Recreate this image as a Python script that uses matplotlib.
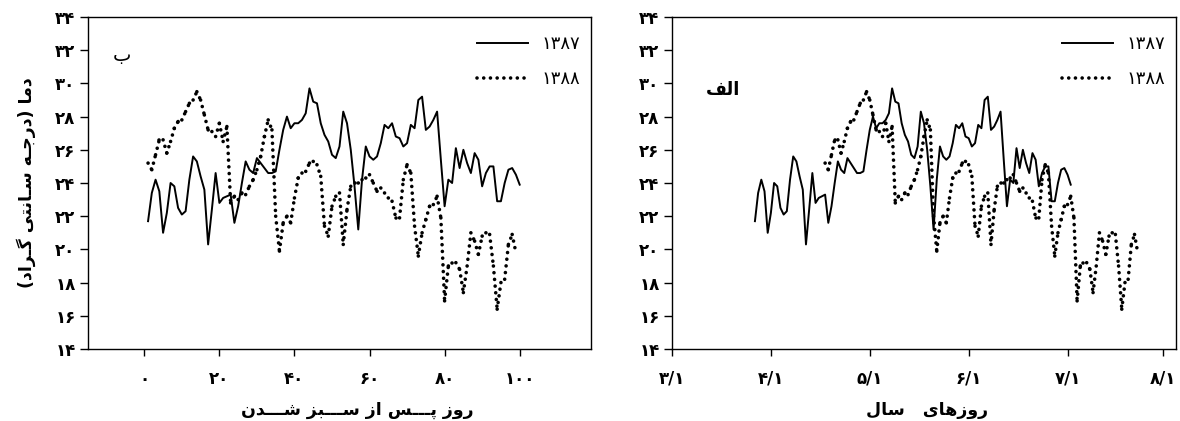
import matplotlib
matplotlib.use('Agg')
import matplotlib.pyplot as plt
from matplotlib.collections import LineCollection
from matplotlib.lines import Line2D

# ---------------- data ----------------
days_1387 = list(range(1, 101))
temp_1387 = [21.7, 23.4, 24.2, 23.5, 21.0, 22.2, 24.0, 23.8, 22.5, 22.1,
             22.3, 24.2, 25.6, 25.3, 24.4, 23.6, 20.3, 22.4, 24.6, 22.8,
             23.1, 23.2, 23.3, 21.6, 22.6, 24.0, 25.3, 24.8, 24.6, 25.5,
             25.2, 24.9, 24.6, 24.6, 24.7, 26.0, 27.2, 28.0, 27.3, 27.6,
             27.6, 27.8, 28.2, 29.7, 28.9, 28.8, 27.6, 26.9, 26.5, 25.7,
             25.5, 26.2, 28.3, 27.6, 26.0, 23.8, 21.2, 24.2, 26.2, 25.6,
             25.4, 25.6, 26.4, 27.5, 27.3, 27.6, 26.8, 26.7, 26.2, 26.4,
             27.5, 27.3, 29.0, 29.2, 27.2, 27.4, 27.8, 28.3, 25.4, 22.6,
             24.2, 24.0, 26.1, 24.9, 26.0, 25.2, 24.6, 25.8, 25.4, 23.8,
             24.6, 25.0, 25.0, 22.9, 22.9, 24.0, 24.8, 24.9, 24.5, 23.9]

days_1388 = list(range(1, 100))
temp_1388 = [25.2, 24.8, 25.7, 26.6, 26.6, 25.8, 26.5, 27.3, 27.7, 27.8,
             28.3, 28.8, 29.0, 29.5, 29.0, 28.1, 27.2, 27.1, 26.8, 27.6,
             26.5, 27.4, 22.8, 23.2, 23.0, 23.4, 23.3, 23.8, 24.2, 24.8,
             25.6, 26.8, 27.8, 27.2, 22.0, 19.9, 21.6, 22.0, 21.6, 23.1,
             24.3, 24.6, 24.7, 25.2, 25.3, 25.1, 24.4, 21.4, 20.8, 22.6,
             23.2, 23.4, 20.3, 22.4, 23.8, 24.0, 24.0, 24.2, 24.3, 24.5,
             24.0, 23.5, 23.7, 23.4, 23.1, 22.9, 21.9, 21.9, 24.2, 25.1,
             24.6, 21.4, 19.6, 21.0, 21.8, 22.6, 22.7, 23.2, 21.9, 16.9,
             19.0, 19.2, 19.2, 18.8, 17.4, 19.0, 21.0, 20.5, 19.7, 20.8,
             21.0, 20.9, 19.0, 16.4, 18.0, 18.2, 20.3, 20.9, 19.8]

# green-up dates (Persian month, day) used to place the series on the calendar axis
greenup_1387 = (3, 26)
greenup_1388 = (4, 17)

series_labels = ['1387', '1388']
day_ticks = [0, 20, 40, 60, 80, 100]
month_ticks = [3, 4, 5, 6, 7, 8]
y_ticks = [14, 16, 18, 20, 22, 24, 26, 28, 30, 32, 34]

ylabel_txt = 'دما (درجـه سـانتی گـراد)'
xlabel_left = 'روز پـــس از ســـبز شـــدن'
xlabel_right = 'روزهای   سال'
panel_left = 'ب'
panel_right = 'الف'

# ---------------- helpers ----------------
FA_DIGITS = str.maketrans('0123456789', '۰۱۲۳۴۵۶۷۸۹')


def fa(s):
    return str(s).translate(FA_DIGITS)


def doy(month, day):
    lengths = [31] * 6 + [30] * 5 + [29]
    return sum(lengths[:month - 1]) + day


# Arabic-script shaping (presentation forms) + visual (RTL) ordering
FORMS = {
    'ا': ('\uFE8D', '\uFE8E', None, None),
    'ب': ('\uFE8F', '\uFE90', '\uFE91', '\uFE92'),
    'پ': ('\uFB56', '\uFB57', '\uFB58', '\uFB59'),
    'ت': ('\uFE95', '\uFE96', '\uFE97', '\uFE98'),
    'ج': ('\uFE9D', '\uFE9E', '\uFE9F', '\uFEA0'),
    'د': ('\uFEA9', '\uFEAA', None, None),
    'ر': ('\uFEAD', '\uFEAE', None, None),
    'ز': ('\uFEAF', '\uFEB0', None, None),
    'س': ('\uFEB1', '\uFEB2', '\uFEB3', '\uFEB4'),
    'ش': ('\uFEB5', '\uFEB6', '\uFEB7', '\uFEB8'),
    'ف': ('\uFED1', '\uFED2', '\uFED3', '\uFED4'),
    'گ': ('\uFB92', '\uFB93', '\uFB94', '\uFB95'),
    'ل': ('\uFEDD', '\uFEDE', '\uFEDF', '\uFEE0'),
    'م': ('\uFEE1', '\uFEE2', '\uFEE3', '\uFEE4'),
    'ن': ('\uFEE5', '\uFEE6', '\uFEE7', '\uFEE8'),
    'ه': ('\uFEE9', '\uFEEA', '\uFEEB', '\uFEEC'),
    'و': ('\uFEED', '\uFEEE', None, None),
    'ی': ('\uFBFC', '\uFBFD', '\uFBFE', '\uFBFF'),
}
TATWEEL = '\u0640'


def _joins_next(c):
    return c == TATWEEL or (c in FORMS and FORMS[c][2] is not None)


def _joins_prev(c):
    return c == TATWEEL or c in FORMS


def shape(text):
    out = []
    for i, c in enumerate(text):
        if c not in FORMS:
            out.append(c)
            continue
        prev = text[i - 1] if i > 0 else ''
        nxt = text[i + 1] if i + 1 < len(text) else ''
        iso, fin, ini, med = FORMS[c]
        jp = _joins_next(prev)
        jn = ini is not None and _joins_prev(nxt)
        out.append(med if (jp and jn) else fin if jp else ini if jn else iso)
    vis = ''.join(reversed(out))
    return vis.translate(str.maketrans('()', ')('))


# ---------------- figure ----------------
plt.rcParams['font.family'] = ['DejaVu Sans']
W, H = 1180, 421
fig = plt.figure(figsize=(W / 100, H / 100), dpi=100)

ax1 = fig.add_axes([88 / W, 1 - 349 / H, (591 - 88) / W, (349 - 17) / H])
ax2 = fig.add_axes([672 / W, 1 - 349 / H, (1176 - 672) / W, (349 - 17) / H])

DOT = (0, (0.01, 1.85))
LW_DOT = 2.6
LW_SOLID = 1.4
TICK_FS = 12
LEG_FS = 13


def dotted_segments(ax, x, y):
    # each segment restarts its dot pattern, so every daily value carries a dot
    segs = [[(x[i], y[i]), (x[i + 1], y[i + 1])] for i in range(len(x) - 1)]
    lc = LineCollection(segs, colors='black', linewidths=LW_DOT,
                        linestyles=[DOT], capstyle='round')
    ax.add_collection(lc)


def draw(ax, x87, x88):
    ax.plot(x87, temp_1387, color='black', lw=LW_SOLID)
    dotted_segments(ax, x88, temp_1388)
    ax.set_ylim(14, 34)
    ax.set_yticks(y_ticks)
    ax.set_yticklabels([fa(v) for v in y_ticks], fontweight='bold',
                       fontsize=TICK_FS)
    ax.tick_params(axis='y', direction='out', length=6, width=1, pad=3)
    ax.tick_params(axis='x', direction='out', length=5, width=1, pad=10)
    for sp in ax.spines.values():
        sp.set_linewidth(1.0)
    h1 = Line2D([], [], color='black', lw=LW_SOLID)
    h2 = Line2D([], [], color='black', lw=LW_DOT, linestyle=DOT,
                dash_capstyle='round')
    ax.legend([h1, h2], [fa(s) for s in series_labels], loc='upper right',
              bbox_to_anchor=(1.0 + 5 / 503, 1.0 - 2 / 332), frameon=False,
              fontsize=LEG_FS, handlelength=2.8, handletextpad=0.75,
              labelspacing=0.95, borderaxespad=0.5)


# left panel: days after green-up
draw(ax1, days_1387, days_1388)
ax1.set_xlim(-15, 119)
ax1.set_xticks(day_ticks)
ax1.set_xticklabels([fa(v) for v in day_ticks], fontweight='bold',
                    fontsize=TICK_FS)
ax1.text((122 - 88) / (591 - 88), 1 - (55 - 17) / (349 - 17), shape(panel_left),
         transform=ax1.transAxes, fontsize=14, ha='center', va='center')

# right panel: calendar days (Persian calendar)
g87 = doy(*greenup_1387)
g88 = doy(*greenup_1388)
draw(ax2, [g87 + d for d in days_1387], [g88 + d for d in days_1388])
ax2.set_xlim(doy(3, 1), doy(8, 1) + 4)
ax2.set_xticks([doy(m, 1) for m in month_ticks])
ax2.set_xticklabels([fa(f'{m}/1') for m in month_ticks], fontweight='bold',
                    fontsize=TICK_FS)
ax2.text((723 - 672) / (1176 - 672), 1 - (90 - 17) / (349 - 17),
         shape(panel_right), transform=ax2.transAxes, fontsize=13,
         fontweight='bold', ha='center', va='center')

fig.text(26 / W, 1 - 183 / H, shape(ylabel_txt), rotation=90, fontsize=12.5,
         fontweight='bold', ha='center', va='center')
fig.text(357 / W, 1 - 410 / H, shape(xlabel_left), fontsize=12.5,
         fontweight='bold', ha='center', va='center')
fig.text(927 / W, 1 - 410 / H, shape(xlabel_right), fontsize=12.5,
         fontweight='bold', ha='center', va='center')

fig.savefig('out.png', dpi=100)
